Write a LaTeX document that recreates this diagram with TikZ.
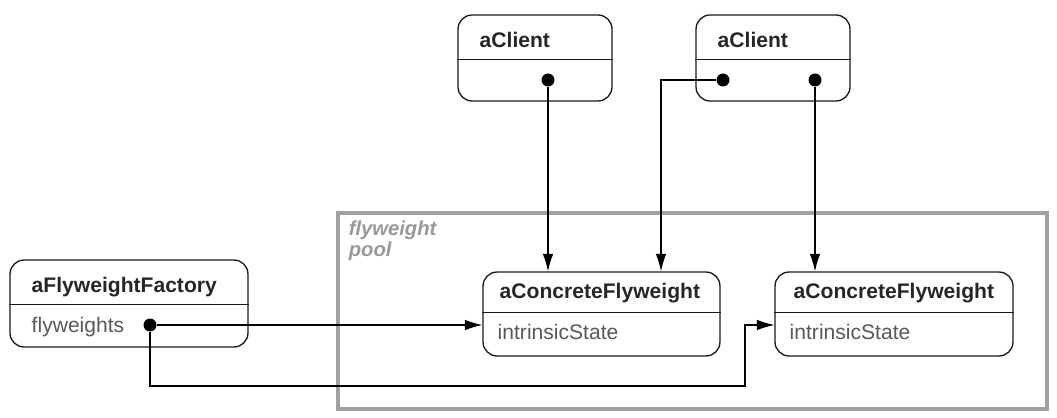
\documentclass[tikz,border=0pt]{standalone}
\usepackage{fontspec}
\setmainfont{Liberation Sans}
\usetikzlibrary{arrows.meta}

\begin{document}
\begin{tikzpicture}[
x=0.02cm, y=-0.02cm, obj/.style={rectangle, draw=black!90, rounded corners=8pt, line width=0.75pt}, title/.style={anchor=base west, inner sep=0pt, font=\fontsize{12}{14}\selectfont\bfseries, text=black!85}, attr/.style={anchor=base west, inner sep=0pt, font=\fontsize{12}{14}\selectfont, text=black!65}, dot/.style={circle, fill=black, inner sep=0pt, minimum size=0.26cm}, arrow/.style={-{Latex[length=10pt,width=6pt]}, line width=0.6pt}, pool/.style={rectangle, draw=black!37, line width=1.8pt, minimum width=14.18cm, minimum height=3.92cm}, poollabel/.style={anchor=north west, inner sep=0pt, align=left, font=\fontsize{11.5}{9.5}\selectfont\bfseries\itshape, text=black!40} ]
\useasboundingbox (0,0) rectangle (1057,418);
% the pool
\node[pool] (pool) at (692.5,311) {};
\node[poollabel] (poolname) at ([xshift=0.24cm, yshift=-0.18cm]pool.north west) {flyweight\\pool};
% clients
\node[obj, minimum width=3.08cm, minimum height=1.72cm] (client1) at (535,58) {};
\node[obj, minimum width=3.08cm, minimum height=1.72cm] (client2) at (773,58) {};
\draw[line width=0.75pt, black!90] ([yshift=-0.9cm]client1.north west) -- ([yshift=-0.9cm]client1.north east);
\draw[line width=0.75pt, black!90] ([yshift=-0.9cm]client2.north west) -- ([yshift=-0.9cm]client2.north east);
\node[title] (client1title) at ([xshift=0.44cm, yshift=-0.66cm]client1.north west) {aClient};
\node[title] (client2title) at ([xshift=0.44cm, yshift=-0.66cm]client2.north west) {aClient};
% factory
\node[obj, minimum width=4.76cm, minimum height=1.74cm] (factory) at (129,303.5) {};
\draw[line width=0.75pt, black!90] ([yshift=-0.9cm]factory.north west) -- ([yshift=-0.9cm]factory.north east);
\node[title] (factorytitle) at ([xshift=0.44cm, yshift=-0.66cm]factory.north west) {aFlyweightFactory};
\node[attr] (factoryattr) at ([xshift=0.44cm, yshift=-1.46cm]factory.north west) {flyweights};
% concrete flyweights
\node[obj, minimum width=4.74cm, minimum height=1.68cm] (cf1) at (601.5,314) {};
\node[obj, minimum width=4.76cm, minimum height=1.68cm] (cf2) at (894,314) {};
\draw[line width=0.75pt, black!90] ([yshift=-0.82cm]cf1.north west) -- ([yshift=-0.82cm]cf1.north east);
\draw[line width=0.75pt, black!90] ([yshift=-0.82cm]cf2.north west) -- ([yshift=-0.82cm]cf2.north east);
\node[title] (cf1title) at ([xshift=0.34cm, yshift=-0.54cm]cf1.north west) {aConcreteFlyweight};
\node[title] (cf2title) at ([xshift=0.38cm, yshift=-0.54cm]cf2.north west) {aConcreteFlyweight};
\node[attr] (cf1attr) at ([xshift=0.3cm, yshift=-1.36cm]cf1.north west) {intrinsicState};
\node[attr] (cf2attr) at ([xshift=0.3cm, yshift=-1.36cm]cf2.north west) {intrinsicState};
% references
\node[dot] (c1dot) at (548,80) {};
\node[dot] (c2dotl) at (723,80) {};
\node[dot] (c2dotr) at (815,80) {};
\node[dot] (fdot) at (150,325) {};
\coordinate (bend1) at (661,80);
\coordinate (route1) at (150,386);
\coordinate (route2) at (745,386);
\draw[arrow] (c1dot) -- (c1dot |- cf1.north);
\draw[arrow] (c2dotl) -- (bend1) -- (bend1 |- cf1.north);
\draw[arrow] (c2dotr) -- (c2dotr |- cf2.north);
\draw[arrow] (fdot) -- (fdot -| cf1.west);
\draw[arrow] (fdot) -- (route1) -- (route2) |- (cf2.west |- fdot);
\end{tikzpicture}
\end{document}
